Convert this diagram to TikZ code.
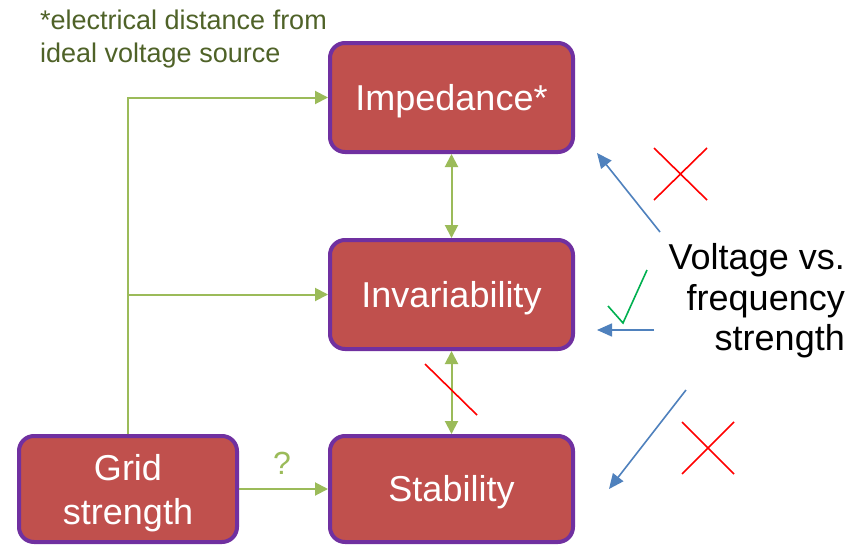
\documentclass[tikz,border=0pt]{standalone}
\usepackage{fontspec}
\setmainfont{Liberation Sans}
\usetikzlibrary{arrows.meta}
\definecolor{boxfill}{HTML}{C0504D}
\definecolor{boxedge}{HTML}{7030A0}
\definecolor{linkgreen}{HTML}{9BBB59}
\definecolor{notegreen}{HTML}{4F6228}
\definecolor{arrowblue}{HTML}{4F81BD}
\definecolor{crossred}{HTML}{FF0000}
\definecolor{tickgreen}{HTML}{00B050}
\tikzset{
  block/.style={draw=boxedge, fill=boxfill, line width=4pt, rounded corners=15pt,
    minimum width=243pt, minimum height=109pt, inner sep=0pt, text=white,
    font=\fontsize{36}{44}\selectfont, align=center,
    text height=26pt, text depth=1pt},
  boxtext/.style={inner sep=0pt, text=white, font=\fontsize{36}{44}\selectfont, align=center},
  link/.style={draw=linkgreen, line width=2pt, -{Triangle[length=13pt,width=13pt]}},
  twoway/.style={draw=linkgreen, line width=2pt,
    {Triangle[length=13pt,width=13pt]}-{Triangle[length=13pt,width=13pt]}},
  bluearrow/.style={draw=arrowblue, line width=1.6pt, -{Triangle[length=15pt,width=13pt]}},
  crossline/.style={draw=crossred, line width=1.6pt},
  tick/.style={draw=tickgreen, line width=1.6pt}
}
\begin{document}
\begin{tikzpicture}[x=1pt,y=-1pt]
\useasboundingbox (0,0) rectangle (865,544);
\fill[white] (0,0) rectangle (865,544);

% main blocks
\node[block] (imp) at (451.5,97.5) {Impedance*};
\node[block] (inv) at (451.5,294.5) {Invariability};
\node[block, minimum height=106pt] (stab) at (451.5,489) {Stability};
\node[block, minimum width=218pt, minimum height=106pt] (grid) at (128,489) {};
\node[boxtext] (gridtext) at (128,493) {Grid\\strength};

% note on impedance
\node[anchor=north west, inner sep=0pt, align=left, text=notegreen,
  font=\fontsize{27}{33}\selectfont] (note) at (40,10) {*electrical distance from\\ideal voltage source};

% green links
\draw[link] (grid.north) |- (imp.west);
\draw[link] (grid.north |- inv.west) -- (inv.west);
\draw[link] (grid.east) -- (stab.west);
\node[text=linkgreen, font=\fontsize{32}{38}\selectfont] (q) at (282,463) {?};
\draw[twoway] (imp.south) -- (inv.north);
\draw[twoway] (inv.south) -- (stab.north);

% voltage vs. frequency strength
\node[anchor=east, align=right, inner sep=0pt,
  font=\fontsize{36}{40.5}\selectfont] (vf) at (845,301) {Voltage vs.\\frequency\\strength};

\coordinate (a1s) at (660,232); \coordinate (a1e) at (597,153);
\coordinate (a2s) at (654,330); \coordinate (a2e) at (597,330);
\coordinate (a3s) at (686,390); \coordinate (a3e) at (609,489);
\draw[bluearrow] (a1s) -- (a1e);
\draw[bluearrow] (a2s) -- (a2e);
\draw[bluearrow] (a3s) -- (a3e);

% crosses and tick
\draw[crossline] (654,148) -- (707,200) (654,200) -- (707,148);
\draw[crossline] (682,422) -- (734,474) (682,474) -- (734,422);
\draw[crossline] (425,364) -- (477,415);
\draw[tick] (608,306) -- (623,323) -- (647,270);
\end{tikzpicture}
\end{document}
